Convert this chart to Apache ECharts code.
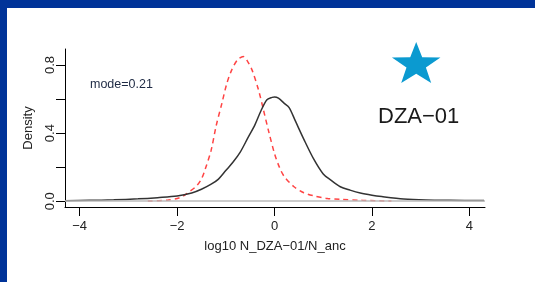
<!DOCTYPE html>
<html>
<head>
<meta charset="utf-8">
<script src="https://cdn.jsdelivr.net/npm/echarts@6/dist/echarts.min.js"></script>
<style>
  html, body { margin: 0; padding: 0; background: #003399; }
  #chart { width: 535px; height: 282px; }
</style>
</head>
<body>
<div id="chart"></div>
<script>
// posterior density (black) vs prior (red dashed), log10 ratio
const postX = [-4.3, -3.8, -3.3, -2.8, -2.4, -2.0, -1.7, -1.5, -1.3, -1.15, -1.0, -0.85, -0.7, -0.55, -0.4, -0.28, -0.16, -0.05, 0.0, 0.08, 0.2, 0.3, 0.43, 0.6, 0.8, 1.0, 1.15, 1.35, 1.55, 1.76, 2.0, 2.2, 2.65, 3.1, 3.6, 4.3];
const postY = [0.003, 0.005, 0.008, 0.014, 0.021, 0.03, 0.048, 0.07, 0.1, 0.13, 0.18, 0.23, 0.29, 0.37, 0.45, 0.53, 0.595, 0.61, 0.612, 0.605, 0.575, 0.55, 0.47, 0.365, 0.25, 0.16, 0.125, 0.085, 0.065, 0.048, 0.035, 0.027, 0.013, 0.007, 0.005, 0.004];

const priorX = [-2.6, -2.2, -1.95, -1.8, -1.6, -1.5, -1.42, -1.3, -1.2, -1.08, -0.98, -0.88, -0.76, -0.64, -0.55, -0.46, -0.33, -0.23, -0.12, 0.0, 0.1, 0.2, 0.4, 0.6, 0.8, 1.08, 1.35, 1.8, 2.4];
const priorY = [0.001, 0.006, 0.02, 0.045, 0.09, 0.13, 0.19, 0.3, 0.44, 0.575, 0.69, 0.77, 0.83, 0.85, 0.82, 0.77, 0.655, 0.54, 0.41, 0.28, 0.2, 0.145, 0.085, 0.05, 0.032, 0.016, 0.011, 0.005, 0.001];

const xTicks = [-4, -2, 0, 2, 4];
const yTicks = [0, 0.2, 0.4, 0.6, 0.8];
const yLabels = [0, 0.4, 0.8];

const modeText = "mode=0.21";
const popName = "DZA\u221201";
const xTitle = "log10 N_DZA\u221201/N_anc";

function zip(xs, ys) {
  return xs.map((x, i) => [x, ys[i]]);
}

function starPoints(cx, cy, R, r, sy) {
  let pts = [];
  for (let i = 0; i < 10; i++) {
    let a = -Math.PI / 2 + i * Math.PI / 5;
    let rad = i % 2 === 0 ? R : r;
    pts.push([cx + rad * Math.cos(a), cy + rad * Math.sin(a) * sy]);
  }
  return pts;
}

const font = "Liberation Sans, Arial, sans-serif";
let myChart = echarts.init(document.getElementById("chart"), null, { renderer: "canvas" });

let option = {
  backgroundColor: "#003399",
  animation: false,
  grid: { left: 65, right: 50, top: 49, bottom: 75, containLabel: false },
  xAxis: {
    type: "value",
    min: -4.3,
    max: 4.32,
    splitLine: { show: false },
    axisLine: { onZero: false, lineStyle: { color: "#000", width: 1 } },
    axisTick: { customValues: xTicks, length: 9, lineStyle: { color: "#000" } },
    axisLabel: {
      customValues: xTicks,
      margin: 13,
      color: "#222",
      fontSize: 13,
      fontFamily: font,
      formatter: (v) => (v < 0 ? "\u2212" + Math.abs(v) : String(v))
    }
  },
  yAxis: {
    type: "value",
    min: -0.034,
    max: 0.894,
    splitLine: { show: false },
    axisLine: { show: true, onZero: false, lineStyle: { color: "#000", width: 1 } },
    axisTick: { show: true, customValues: yTicks, length: 9, lineStyle: { color: "#000" } },
    axisLabel: {
      customValues: yLabels,
      rotate: 90,
      margin: 8,
      color: "#222",
      fontSize: 13,
      fontFamily: font,
      formatter: (v) => v.toFixed(1)
    }
  },
  graphic: [
    { type: "rect", z: -10, shape: { x: 7, y: 8, width: 540, height: 280 }, style: { fill: "#fff" } },
    { type: "text", z: 10, x: 28, y: 128, rotation: Math.PI / 2,
      style: { text: "Density", fill: "#222", font: "13px " + font, align: "center", verticalAlign: "middle" } },
    { type: "text", z: 10, x: 275, y: 246,
      style: { text: xTitle, fill: "#222", font: "13px " + font, align: "center", verticalAlign: "middle" } },
    { type: "text", z: 10, x: 90, y: 85,
      style: { text: modeText, fill: "#1e2a44", font: "12.5px " + font, align: "left", verticalAlign: "middle" } },
    { type: "text", z: 10, x: 378, y: 117,
      style: { text: popName, fill: "#1a1a1a", font: "22px " + font, align: "left", verticalAlign: "middle" } },
    { type: "polygon", z: 10, shape: { points: starPoints(416.2, 64.6, 25.5, 10.2, 0.89) }, style: { fill: "#0b9ad0" } }
  ],
  series: [
    {
      name: "posterior",
      type: "line",
      data: zip(postX, postY),
      showSymbol: false,
      smooth: 0.3,
      lineStyle: { color: "#333", width: 1.5 },
      z: 4,
      markLine: {
        silent: true,
        symbol: "none",
        label: { show: false },
        lineStyle: { color: "#bbb", width: 1.5, type: "solid" },
        data: [{ yAxis: 0 }]
      }
    },
    {
      name: "prior",
      type: "line",
      data: zip(priorX, priorY),
      showSymbol: false,
      smooth: 0.3,
      lineStyle: { color: "#ff4444", width: 1.5, type: [5, 4] },
      z: 3
    }
  ]
};

myChart.setOption(option);
</script>
</body>
</html>
